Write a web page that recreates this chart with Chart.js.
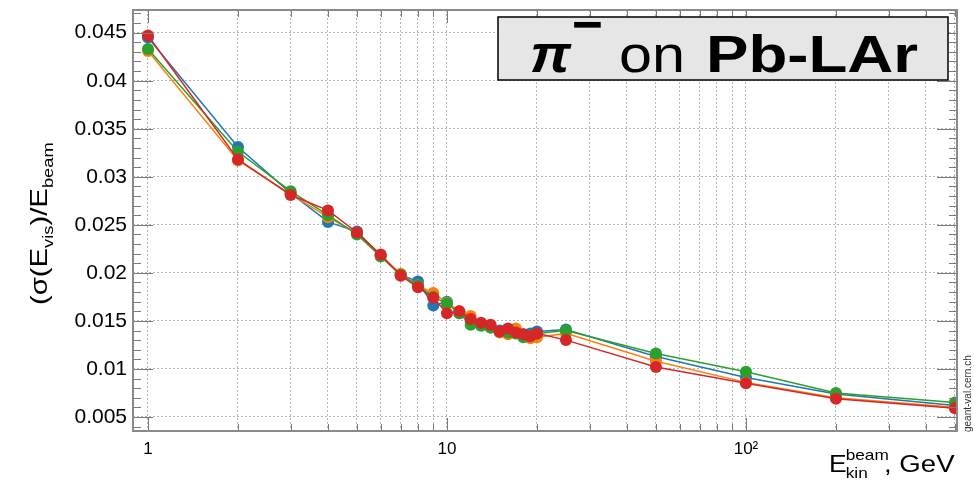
<!DOCTYPE html>
<html><head><meta charset="utf-8">
<script src="https://cdn.jsdelivr.net/npm/chart.js@4.4.1/dist/chart.umd.min.js"></script>
<style>html,body{margin:0;padding:0;background:#fff;}#wrap{width:974px;height:480px;position:relative;}</style>
</head><body><div id="wrap"><canvas id="c" width="974" height="480"></canvas></div>
<script>
// ---- data ----
const energies = [1,2,3,4,5,6,7,8,9,10,11,12,13,14,15,16,17,18,19,20,25,50,100,200,500];
const seriesBlue   = [0.0445,0.0331,0.0283,0.0253,0.0243,0.0218,0.0198,0.0191,0.0166,0.0170,0.0158,0.0150,0.0146,0.0143,0.0140,0.0140,0.0138,0.0136,0.0137,0.0139,0.0141,0.0113,0.0091,0.0074,0.0062];
const seriesOrange = [0.0431,0.0317,0.0282,0.0258,0.0241,0.0218,0.0199,0.0187,0.0179,0.0169,0.0160,0.0155,0.0147,0.0143,0.0138,0.0136,0.0142,0.0135,0.0132,0.0133,0.0137,0.0108,0.0086,0.0070,0.0060];
const seriesGreen  = [0.0433,0.0326,0.0285,0.0260,0.0240,0.0217,0.0198,0.0187,0.0175,0.0168,0.0158,0.0146,0.0145,0.0143,0.0139,0.0138,0.0137,0.0133,0.0135,0.0137,0.0140,0.0116,0.0097,0.0075,0.0065];
const seriesRed    = [0.0447,0.0318,0.0281,0.0265,0.0242,0.0219,0.0197,0.0185,0.0174,0.0158,0.0160,0.0152,0.0148,0.0146,0.0139,0.0142,0.0138,0.0136,0.0134,0.0137,0.0130,0.0102,0.0085,0.0069,0.0059];
const xTickValues = [1,10,100];
const xTickLabels = ['1','10','10\u00B2'];
const xGridValues = [1,2,3,4,5,6,7,8,9,10,20,30,40,50,60,70,80,90,100,200,300,400,500];
const yTickValues = [0.005,0.01,0.015,0.02,0.025,0.03,0.035,0.04,0.045];
const yTickLabels = ['0.005','0.01','0.015','0.02','0.025','0.03','0.035','0.04','0.045'];
const yMinorValues = [];
for (let k = 4; k <= 47; k++) yMinorValues.push(k/1000);

const FONT = "'Liberation Sans', Arial, Helvetica, sans-serif";
const isYMajor = v => yTickValues.some(t => Math.abs(t - v) < 1e-9);

function mk(label, values, color, order){
  return {label, data: energies.map((e,i)=>({x:e, y:values[i]})), borderColor: color, backgroundColor: color,
    borderWidth: 1.5, pointRadius: 6, pointHoverRadius: 6, pointBorderWidth: 0, tension: 0, order};
}

const decor = {
  id: 'decor',
  afterDraw(chart){
    const {ctx, chartArea: a, scales: {x, y}} = chart;
    ctx.save();
    // inner tick marks
    ctx.strokeStyle = '#7a7a7a'; ctx.lineWidth = 1;
    ctx.beginPath();
    xGridValues.forEach(v => {
      const px = Math.round(x.getPixelForValue(v)) + 0.5;
      const L = xTickValues.includes(v) ? 13 : 7;
      ctx.moveTo(px, a.bottom); ctx.lineTo(px, a.bottom - L);
      ctx.moveTo(px, a.top); ctx.lineTo(px, a.top + L);
    });
    yMinorValues.forEach(v => {
      const py = Math.round(y.getPixelForValue(v)) + 0.5;
      const L = isYMajor(v) ? 20 : 8;
      ctx.moveTo(a.left, py); ctx.lineTo(a.left + L, py);
      ctx.moveTo(a.right, py); ctx.lineTo(a.right - L, py);
    });
    ctx.stroke();
    // frame
    ctx.strokeStyle = '#8a8a8a'; ctx.lineWidth = 2;
    ctx.strokeRect(a.left, a.top, a.right - a.left, a.bottom - a.top);

    // title box
    ctx.fillStyle = '#e6e6e6';
    ctx.fillRect(498, 17, 450, 63);
    ctx.strokeStyle = '#000'; ctx.lineWidth = 1.5;
    ctx.strokeRect(498, 17, 450, 63);
    ctx.fillStyle = '#000';
    ctx.textBaseline = 'alphabetic'; ctx.textAlign = 'left';
    const piece = (txt, font, x0, base, targetW) => {
      ctx.font = font;
      const w = ctx.measureText(txt).width;
      ctx.save(); ctx.translate(x0, base); ctx.scale(targetW / w, 1); ctx.fillText(txt, 0, 0); ctx.restore();
    };
    piece('\u03C0', 'italic bold 52px ' + FONT, 530, 72, 41);
    piece('\u2212', 'bold 52px ' + FONT, 572, 42, 31);
    piece('on', '52px ' + FONT, 619, 72, 66);
    piece('Pb-LAr', 'bold 52px ' + FONT, 706, 72, 212);

    // y axis title (rotated), stretched along the text
    ctx.save();
    ctx.translate(47, 305);
    ctx.rotate(-Math.PI/2);
    ctx.scale(1.22, 1);
    let cx = 0;
    const seg = (txt, size, dy) => { ctx.font = size + 'px ' + FONT; ctx.fillText(txt, cx, dy); cx += ctx.measureText(txt).width; };
    seg('(\u03C3(E', 24, 0);
    seg('vis', 15, 6);
    seg(')/E', 24, 0);
    seg('beam', 15, 6);
    ctx.restore();

    // x axis title
    ctx.save(); ctx.translate(829, 472); ctx.scale(1.15, 1);
    ctx.font = '23px ' + FONT; ctx.fillText('E', 0, 0);
    ctx.font = '15px ' + FONT;
    ctx.fillText('beam', 14.5, -12);
    ctx.fillText('kin', 14.5, 6);
    ctx.restore();
    ctx.save(); ctx.translate(884, 472); ctx.scale(1.2, 1);
    ctx.font = '23px ' + FONT; ctx.fillText(', GeV', 0, 0);
    ctx.restore();

    // watermark
    ctx.save();
    ctx.translate(971, 432);
    ctx.rotate(-Math.PI/2);
    ctx.font = '10px ' + FONT; ctx.fillStyle = '#333';
    ctx.fillText('geant-val.cern.ch', 0, 0);
    ctx.restore();

    ctx.restore();
  }
};

new Chart(document.getElementById('c'), {
  type: 'line',
  data: { datasets: [
    mk('blue', seriesBlue, '#1f77b4', 4),
    mk('orange', seriesOrange, '#ff7f0e', 3),
    mk('green', seriesGreen, '#2ca02c', 2),
    mk('red', seriesRed, '#d62728', 1)
  ]},
  options: {
    responsive: false, animation: false, devicePixelRatio: 1,
    layout: { padding: { left: 0, right: 17, top: 10, bottom: 0 } },
    plugins: { legend: { display: false }, tooltip: { enabled: false } },
    scales: {
      x: {
        type: 'logarithmic', min: 0.891, max: 508,
        afterBuildTicks: s => { s.ticks = xGridValues.map(v => ({ value: v, major: xTickValues.includes(v) })); },
        afterFit: s => { s.height = 49; s.paddingLeft = 0; s.paddingRight = 0; },
        ticks: { autoSkip: false, maxRotation: 0, minRotation: 0, padding: 8, color: '#000',
          font: { family: FONT, size: 17 },
          callback: v => { const i = xTickValues.indexOf(v); return i >= 0 ? xTickLabels[i] : ''; } },
        grid: { color: '#b5b5b5', lineWidth: 1, drawTicks: false },
        border: { display: false, dash: [2, 2] }
      },
      y: {
        type: 'linear', min: 0.00354, max: 0.04736,
        afterBuildTicks: s => { s.ticks = yMinorValues.map(v => ({ value: v })); },
        afterFit: s => { s.width = 133; s.paddingTop = 0; s.paddingBottom = 0; },
        ticks: { autoSkip: false, padding: 6, color: '#000', font: { family: FONT, size: 21 },
          callback: v => { const i = yTickValues.findIndex(t => Math.abs(t - v) < 1e-9); return i >= 0 ? yTickLabels[i] : ''; } },
        grid: { drawTicks: false, lineWidth: 1,
          color: c => (c.tick && isYMajor(c.tick.value)) ? '#b5b5b5' : 'rgba(0,0,0,0)' },
        border: { display: false, dash: [2, 2] }
      }
    }
  },
  plugins: [decor]
});
</script></body></html>
